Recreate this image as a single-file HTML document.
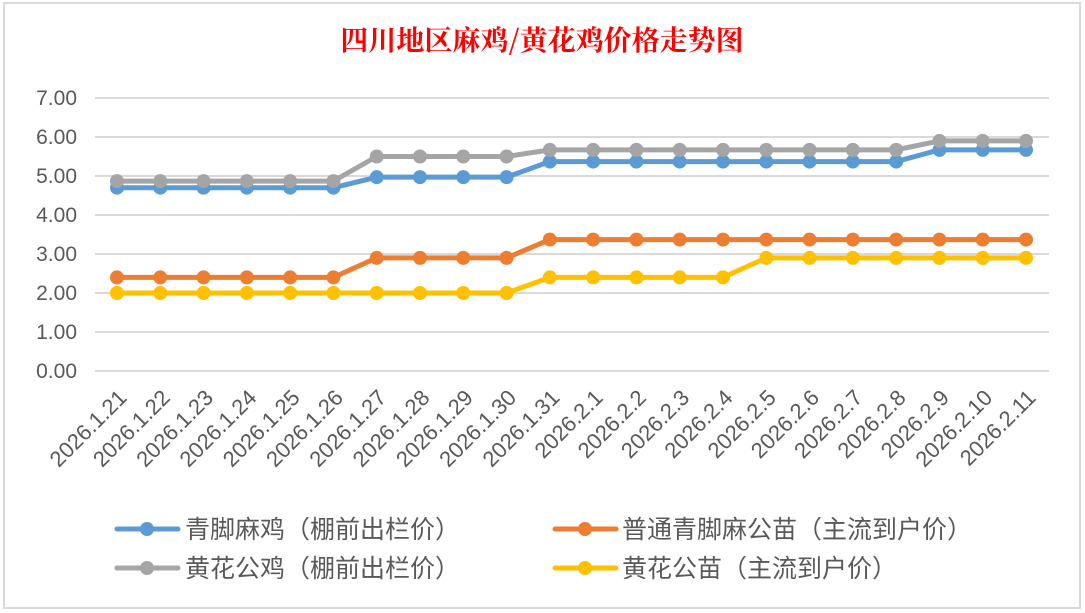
<!DOCTYPE html>
<html><head><meta charset="utf-8"><style>
html,body{margin:0;padding:0;background:#fff;}
svg{display:block;}
text{font-family:"Liberation Sans","Noto Sans CJK SC",sans-serif;fill:#595959;}
</style></head><body>
<svg width="1085" height="613" viewBox="0 0 1085 613" xmlns="http://www.w3.org/2000/svg">
<rect x="0" y="0" width="1085" height="613" fill="#fff"/>
<rect x="4" y="3" width="1076" height="605" fill="#fff" stroke="#d9d9d9" stroke-width="2"/>
<text x="542" y="50" text-anchor="middle" style="font-family:'Noto Serif CJK SC','Liberation Serif',serif;font-size:28px;font-weight:bold;fill:#ff0000">四川地区麻鸡/黄花鸡价格走势图</text>
<g id="grid" stroke="#d9d9d9" stroke-width="2"></g>
<g id="ylab" font-size="21"></g>
<g id="xlab" font-size="22"></g>
<g id="series"></g>
<g font-size="25">
<line x1="117" y1="529" x2="178" y2="529" stroke="#5b9bd5" stroke-width="5" stroke-linecap="round"/><circle cx="147" cy="529" r="7" fill="#5b9bd5"/>
<text x="185" y="538">青脚麻鸡（棚前出栏价）</text>
<line x1="117" y1="568" x2="178" y2="568" stroke="#a5a5a5" stroke-width="5" stroke-linecap="round"/><circle cx="147" cy="568" r="7" fill="#a5a5a5"/>
<text x="185" y="577">黄花公鸡（棚前出栏价）</text>
<line x1="555" y1="529" x2="616" y2="529" stroke="#ed7d31" stroke-width="5" stroke-linecap="round"/><circle cx="585" cy="529" r="7" fill="#ed7d31"/>
<text x="622" y="538">普通青脚麻公苗（主流到户价）</text>
<line x1="555" y1="568" x2="616" y2="568" stroke="#ffc000" stroke-width="5" stroke-linecap="round"/><circle cx="585" cy="568" r="7" fill="#ffc000"/>
<text x="622" y="577">黄花公苗（主流到户价）</text>
</g>
</svg>
<script>
var ns="http://www.w3.org/2000/svg";
function el(p,t,a,txt){var e=document.createElementNS(ns,t);for(var k in a)e.setAttribute(k,a[k]);if(txt)e.textContent=txt;document.getElementById(p).appendChild(e);return e;}
function Y(v){return 371-v*39;}
for(var i=0;i<=7;i++){el("grid","line",{x1:95,x2:1049,y1:Y(i),y2:Y(i)});el("ylab","text",{x:77,y:Y(i)+7,"text-anchor":"end"},i.toFixed(2));}
var labels=["2026.1.21","2026.1.22","2026.1.23","2026.1.24","2026.1.25","2026.1.26","2026.1.27","2026.1.28","2026.1.29","2026.1.30","2026.1.31","2026.2.1","2026.2.2","2026.2.3","2026.2.4","2026.2.5","2026.2.6","2026.2.7","2026.2.8","2026.2.9","2026.2.10","2026.2.11"];
var N=22;
function X(i){return 117+i*(909/21);}
for(var i=0;i<N;i++){var x=X(i)+11,y=399;el("xlab","text",{x:x,y:y,"text-anchor":"end",transform:"rotate(-45 "+x+" "+y+")"},labels[i]);}
function arr(segs){var a=[];segs.forEach(function(s){for(var j=0;j<s[1];j++)a.push(s[0]);});return a;}
var S=[
["#ffc000",arr([[2.0,10],[2.4,5],[2.9,7]])],
["#ed7d31",arr([[2.4,6],[2.9,4],[3.37,12]])],
["#5b9bd5",arr([[4.7,6],[4.97,4],[5.37,9],[5.67,3]])],
["#a5a5a5",arr([[4.87,6],[5.5,4],[5.67,9],[5.9,3]])]
];
S.forEach(function(s){var pts=s[1].map(function(v,i){return X(i)+","+Y(v);}).join(" ");
el("series","polyline",{points:pts,fill:"none",stroke:s[0],"stroke-width":5,"stroke-linejoin":"round"});
s[1].forEach(function(v,i){el("series","circle",{cx:X(i),cy:Y(v),r:7,fill:s[0]});});});
</script>
</body></html>
